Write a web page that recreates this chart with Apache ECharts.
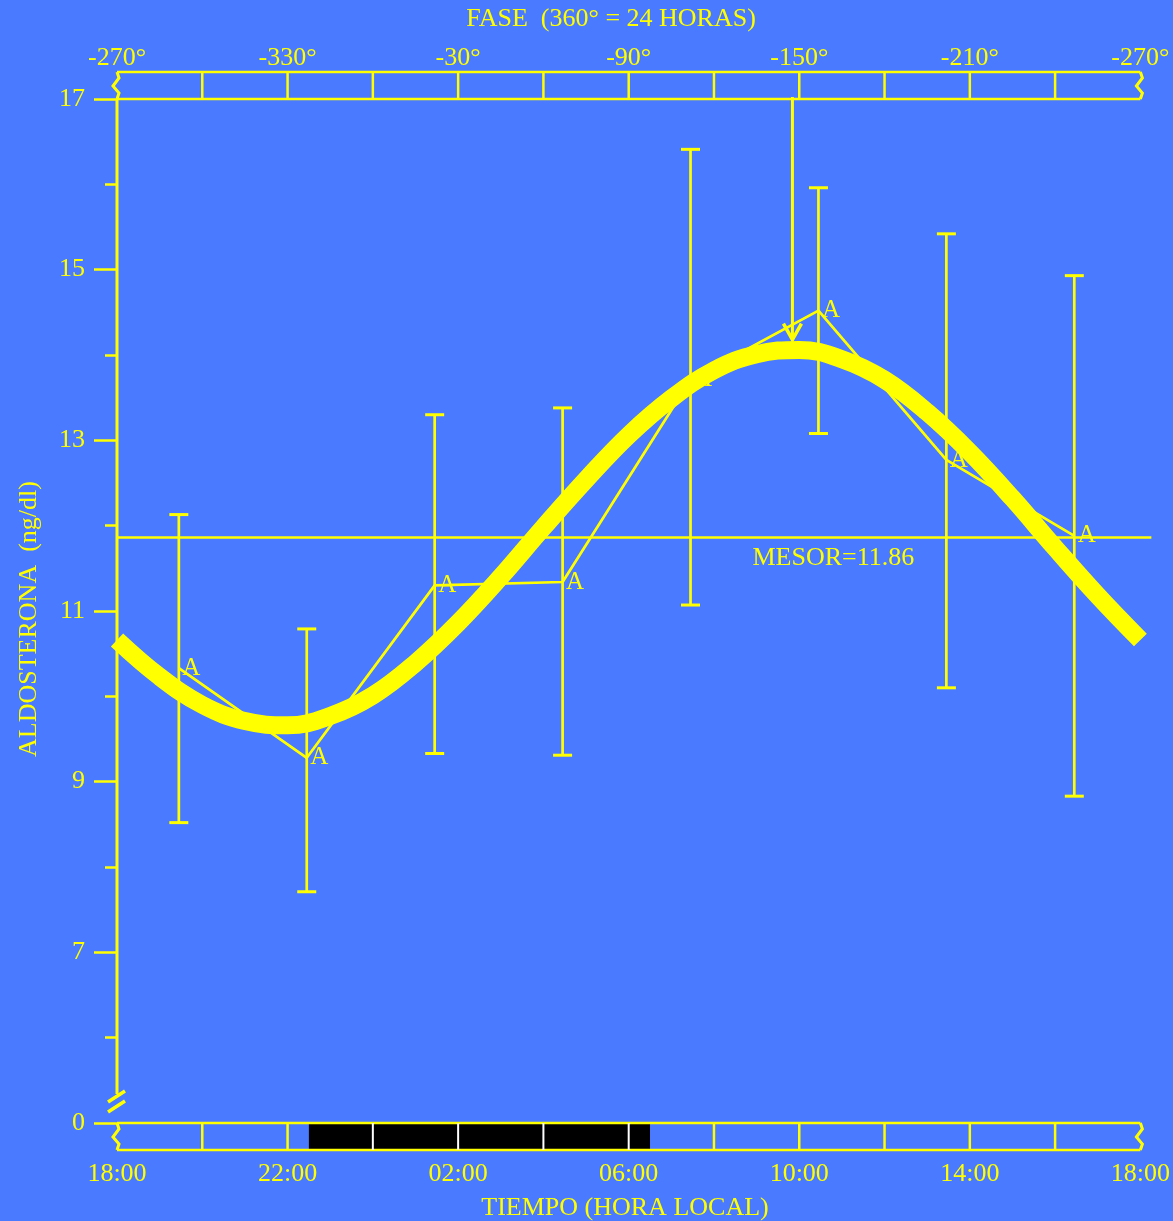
<!DOCTYPE html>
<html><head><meta charset="utf-8">
<script src="https://cdn.jsdelivr.net/npm/echarts@6/dist/echarts.min.js"></script>
<style>html,body{margin:0;padding:0;background:#4a7aff;}#c{width:1173px;height:1221px;}</style>
</head><body><div id="c"></div>
<script>
// ---- data ----
const sampleHours = [1.45, 4.45, 7.45, 10.45, 13.45, 16.45, 19.45, 22.45]; // hours after 18:00
const meanValues = [10.33, 9.28, 11.30, 11.34, 13.71, 14.52, 12.77, 11.88];
const errLow = [8.52, 7.71, 9.33, 9.31, 11.07, 13.08, 10.10, 8.83];
const errHigh = [12.13, 10.79, 13.30, 13.38, 16.41, 15.96, 15.42, 14.93];
const fitHours = [0,1,2,3,4,5,6,7,8,9,10,11,12,13,14,15,16,17,18,19,20,21,22,23,24];
const fitValues = [10.66,10.23,9.90,9.71,9.66,9.77,10.01,10.39,10.86,11.40,11.98,12.54,13.06,13.49,13.82,14.01,14.06,13.95,13.71,13.33,12.86,12.32,11.74,11.18,10.66];
const mesor = 11.86;
const acrophaseHour = 15.84;
const arrowTipValue = 14.18;
const nightStart = 4.5, nightEnd = 12.5;
const bandTickHours = [2,4,6,8,10,12,14,16,18,20,22];
const timeLabels = ['18:00','22:00','02:00','06:00','10:00','14:00','18:00'];
const phaseLabels = ['-270°','-330°','-30°','-90°','-150°','-210°','-270°'];
const yLabelValues = [5,7,9,11,13,15,17];
const yLabels = ['0','7','9','11','13','15','17'];

// ---- style ----
const YEL = '#ffff00';
const FONT = '"Liberation Serif", "Times New Roman", serif';
const chart = echarts.init(document.getElementById('c'));

function zig(x, y0, lw) {
  return {type:'polyline', shape:{points:[[x,y0],[x+2,y0+6],[x-4,y0+14],[x+2,y0+21],[x,y0+27]]},
          style:{stroke:YEL, fill:null, lineWidth:lw}};
}
function ln(x1,y1,x2,y2,color,lw){
  return {type:'line', shape:{x1,y1,x2,y2}, style:{stroke:color, lineWidth:lw}};
}

function renderDecor(params, api) {
  const [x0, yTop] = api.coord([0, 17]);
  const [x1, yBot] = api.coord([24, 5]);
  const bandH = 27, lw = 2.5;
  const ch = [];
  const tT = yTop - bandH, bB = yBot + bandH;
  // night bar
  const nx0 = api.coord([nightStart, 5])[0], nx1 = api.coord([nightEnd, 5])[0];
  ch.push({type:'rect', shape:{x:nx0, y:yBot, width:nx1-nx0, height:bandH}, style:{fill:'#000'}});
  // band horizontal lines
  ch.push(ln(x0,tT,x1,tT,YEL,lw), ln(x0,yTop,x1,yTop,YEL,lw));
  ch.push(ln(x0,yBot,x1,yBot,YEL,lw), ln(x0,bB,x1,bB,YEL,lw));
  // zigzag ends
  ch.push(zig(x0,tT,3), zig(x1,tT,3), zig(x0,yBot,3), zig(x1,yBot,3));
  // band ticks
  bandTickHours.forEach(h => {
    const x = api.coord([h, 5])[0];
    ch.push(ln(x,tT,x,yTop,YEL,lw));
    const inNight = h > nightStart && h < nightEnd;
    ch.push(ln(x,yBot,x,bB,inNight ? '#ffffff' : YEL, inNight ? 2 : lw));
  });
  // y axis line with break
  ch.push(ln(x0,yTop,x0,yBot-29,YEL,3));
  ch.push(ln(x0-9,yBot-21,x0+8,yBot-32,YEL,3.5));
  ch.push(ln(x0-9,yBot-11,x0+8,yBot-22,YEL,3.5));
  // mesor line + label
  const ym = api.coord([0, mesor])[1];
  ch.push(ln(x0,ym,x1+11,ym,YEL,2.5));
  ch.push({type:'text', x: x0 + (x1-x0)*0.70, y: ym + 21,
           style:{text:'MESOR=' + mesor.toFixed(2), fill:YEL, font:'26px ' + FONT, textAlign:'center', textVerticalAlign:'middle'}});
  // acrophase arrow
  const [ax, ayTop] = api.coord([acrophaseHour, 17]);
  const ayTip = api.coord([acrophaseHour, arrowTipValue])[1];
  ch.push(ln(ax, ayTop-2, ax, ayTip, YEL, 3));
  ch.push({type:'polyline', shape:{points:[[ax-9, ayTip-16],[ax, ayTip],[ax+9, ayTip-16]]}, style:{stroke:YEL, fill:null, lineWidth:3.5}});
  return {type:'group', children: ch};
}

function renderErr(params, api) {
  const h = api.value(0);
  const pLo = api.coord([h, api.value(1)]);
  const pHi = api.coord([h, api.value(2)]);
  const w = 9.5;
  return {type:'group', children:[
    ln(pLo[0], pLo[1], pHi[0], pHi[1], YEL, 2.7),
    ln(pHi[0]-w, pHi[1], pHi[0]+w, pHi[1], YEL, 3),
    ln(pLo[0]-w, pLo[1], pLo[0]+w, pLo[1], YEL, 3)
  ]};
}

const option = {
  backgroundColor: '#4a7aff',
  animation: false,
  grid: {left:117, right:32, top:99, bottom:98},
  xAxis: [
    {type:'value', min:0, max:24, interval:2, position:'bottom',
     axisLine:{show:false}, axisTick:{show:false}, splitLine:{show:false},
     axisLabel:{color:YEL, fontFamily:'Liberation Serif', fontSize:26, margin:38,
       formatter: v => (v % 4 === 0 ? timeLabels[v/4] : '')}},
    {type:'value', min:0, max:24, interval:2, position:'top',
     axisLine:{show:false}, axisTick:{show:false}, splitLine:{show:false},
     axisLabel:{color:YEL, fontFamily:'Liberation Serif', fontSize:26, margin:28,
       formatter: v => (v % 4 === 0 ? phaseLabels[v/4] : '')}}
  ],
  yAxis: [
    {type:'value', min:5, max:17, interval:2, position:'left',
     axisLine:{show:false}, splitLine:{show:false},
     axisTick:{show:true, length:23, lineStyle:{color:YEL, width:2.5}},
     axisLabel:{color:YEL, fontFamily:'Liberation Serif', fontSize:26, margin:32,
       formatter: v => { const i = yLabelValues.indexOf(v); return i >= 0 ? yLabels[i] : ''; }}},
    {type:'value', min:5, max:17, interval:1, position:'left',
     axisLine:{show:false}, splitLine:{show:false},
     axisTick:{show:true, length:12, lineStyle:{color:YEL, width:2.5}},
     axisLabel:{show:false}}
  ],
  graphic: [
    {type:'text', x:611, y:19, style:{text:'FASE  (360° = 24 HORAS)', fill:YEL, font:'26px ' + FONT, textAlign:'center', textVerticalAlign:'middle'}},
    {type:'text', x:625, y:1208, style:{text:'TIEMPO (HORA LOCAL)', fill:YEL, font:'26px ' + FONT, textAlign:'center', textVerticalAlign:'middle'}},
    {type:'text', x:29, y:619, rotation:Math.PI/2, style:{text:'ALDOSTERONA  (ng/dl)', fill:YEL, font:'26px ' + FONT, textAlign:'center', textVerticalAlign:'middle'}}
  ],
  series: [
    {type:'custom', name:'decor', xAxisIndex:0, yAxisIndex:0, clip:false, z:1, silent:true,
     renderItem: renderDecor, data:[[0,5]]},
    {type:'custom', name:'err', xAxisIndex:0, yAxisIndex:0, clip:false, z:2, silent:true,
     renderItem: renderErr, data: sampleHours.map((h,i) => [h, errLow[i], errHigh[i]])},
    {type:'line', name:'media', xAxisIndex:0, yAxisIndex:0, z:2, silent:true,
     data: sampleHours.map((h,i) => [h, meanValues[i]]),
     symbol:'circle', symbolSize:1, itemStyle:{color:YEL},
     lineStyle:{color:YEL, width:2.7},
     label:{show:true, formatter:'A', position:'right', distance:3, color:YEL, fontFamily:'Liberation Serif', fontSize:25}},
    {type:'line', name:'cosinor', xAxisIndex:0, yAxisIndex:0, z:3, silent:true, smooth:0.4,
     data: fitHours.map((h,i) => [h, fitValues[i]]), symbol:'none',
     lineStyle:{color:YEL, width:18}}
  ]
};
chart.setOption(option);
</script></body></html>
